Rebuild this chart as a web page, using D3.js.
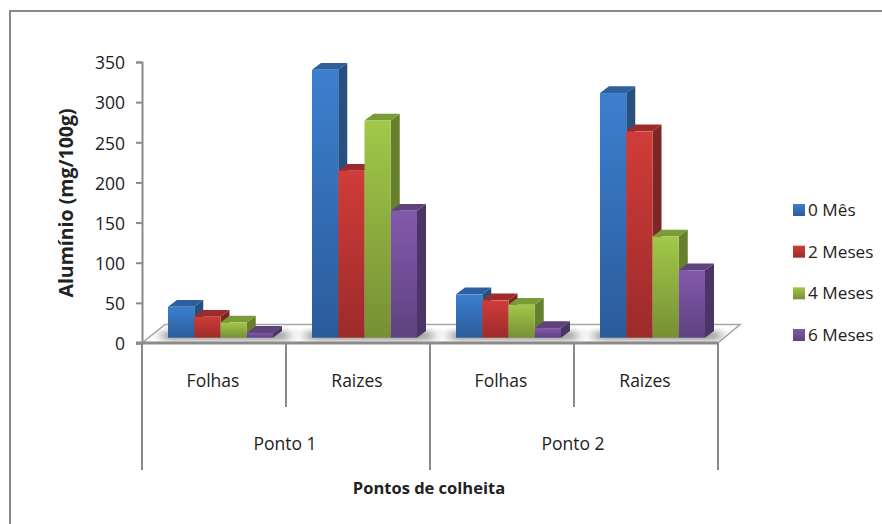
<!DOCTYPE html>
<html><head><meta charset="utf-8">
<script src="https://cdn.jsdelivr.net/npm/d3@7"></script>
<style>html,body{margin:0;padding:0;background:#fff}svg{display:block}text{font-family:"Open Sans",sans-serif;fill:#222}</style>
</head><body><svg id="c" width="882" height="524"></svg>
<script>
const categories = ["Folhas","Raizes","Folhas","Raizes"];
const categoryKeys = ["P1F","P1R","P2F","P2R"];
const groups = ["Ponto 1","Ponto 2"];
const seriesNames = ["0 Mês","2 Meses","4 Meses","6 Meses"];
const mes0 = [38.6,333.7,54,304.7];
const mes2 = [26,208,46.5,257];
const mes4 = [19,270.6,41,126];
const mes6 = [6,158,12,84];
const seriesValues = [mes0,mes2,mes4,mes6];
const yTicks = [0,50,100,150,200,250,300,350];
const frontTop = ["#3d7fcf","#d03c39","#a2c849","#8359ac"];
const frontBottom = ["#2a5c9a","#9c2b2a","#778f34","#5e4280"];
const topFaces = ["#2d609d","#9e2b2b","#799c38","#5f437c"];
const sideFaces = ["#25507f","#7f2523","#66802d","#4a3566"];

const svg = d3.select("#c");
const defs = svg.append("defs");
seriesNames.forEach((s,i)=>{
  const g = defs.append("linearGradient").attr("id","g"+i).attr("x1",0).attr("x2",0).attr("y1",0).attr("y2",1);
  g.append("stop").attr("offset",0).attr("stop-color",frontTop[i]);
  g.append("stop").attr("offset",1).attr("stop-color",frontBottom[i]);
});
defs.append("filter").attr("id","blur").attr("x","-20%").attr("width","140%").attr("y","-100%").attr("height","300%")
  .append("feGaussianBlur").attr("stdDeviation","6 2");
defs.append("clipPath").attr("id","floorClip").append("path").attr("d","M142,343L718,343L740,324.5L165,324.5Z");

const grey = "#8a8a8a";
// frame
svg.append("path").attr("d","M882,11H10V524").attr("fill","none").attr("stroke",grey).attr("stroke-width",2);

const y = d3.scaleLinear().domain([0,350]).range([343,62]);
const x = d3.scaleBand().domain(categoryKeys).range([142,718]);
const inner = d3.scaleBand().domain(seriesNames).range([0,105]);
const barInset = 26, baseShift = 5.3, depthX = 9, depthY = 6.8;

// floor
svg.append("path").attr("d","M142,343L165,324.5H740L718,343").attr("fill","#fff").attr("stroke","#a6a6a6").attr("stroke-width",1.6);
const shadow = svg.append("g").attr("clip-path","url(#floorClip)").append("g").attr("filter","url(#blur)").attr("opacity",0.65);
categoryKeys.forEach(k=>{
  shadow.append("rect").attr("x",x(k)+barInset-6).attr("width",inner.step()*4+22)
    .attr("y",y(0)-baseShift-7).attr("height",10).attr("fill","#7a7a7a");
});

// bars
categoryKeys.forEach((k,ci)=>{
  seriesNames.forEach((s,si)=>{
    const v = seriesValues[si][ci];
    const x0 = x(k)+barInset+inner(s), w = inner.bandwidth();
    const yb = y(0)-baseShift, yt = y(v)-baseShift;
    const g = svg.append("g");
    g.append("path").attr("fill",sideFaces[si])
      .attr("d",`M${x0+w},${yt}L${x0+w+depthX},${yt-depthY}V${yb-depthY}L${x0+w},${yb}Z`);
    g.append("path").attr("fill",topFaces[si])
      .attr("d",`M${x0},${yt}L${x0+depthX},${yt-depthY}H${x0+w+depthX}L${x0+w},${yt}Z`);
    g.append("rect").attr("x",x0).attr("y",yt).attr("width",w).attr("height",yb-yt).attr("fill",`url(#g${si})`);
  });
});

// value axis
const ax = svg.append("g").attr("transform","translate(142,0)")
  .call(d3.axisLeft(y).tickValues(yTicks).tickSize(6).tickPadding(11).tickFormat(d3.format("d")));
ax.select(".domain").attr("stroke",grey).attr("stroke-width",2);
ax.selectAll(".tick line").attr("stroke",grey).attr("stroke-width",2);
ax.selectAll("text").attr("font-size",17.5).attr("fill","#222").attr("dy","0.39em").style("font-family",'"Open Sans",sans-serif');

// category axis lines
svg.append("line").attr("x1",136).attr("x2",718).attr("y1",y(0)).attr("y2",y(0)).attr("stroke",grey).attr("stroke-width",3);
const lab = (t,xp,yp,size,w)=>svg.append("text").attr("x",xp).attr("y",yp).attr("text-anchor","middle")
  .attr("font-size",size).attr("font-weight",w||400).text(t);
categoryKeys.forEach((k,i)=>{
  lab(categories[i], x(k)+x.bandwidth()/2-1, 387, 17.5);
  const end = (i%2===0)? 407 : 470;
  svg.append("line").attr("x1",x(k)+x.bandwidth()).attr("x2",x(k)+x.bandwidth()).attr("y1",y(0)).attr("y2",end).attr("stroke",grey).attr("stroke-width",2);
});
svg.append("line").attr("x1",142).attr("x2",142).attr("y1",y(0)).attr("y2",470).attr("stroke",grey).attr("stroke-width",2);
groups.forEach((g,i)=>lab(g, x(categoryKeys[i*2])+x.bandwidth()-1, 450, 17.5));

// titles
lab("Pontos de colheita",429,494,16.5,700);
svg.append("text").attr("transform","translate(73,203) rotate(-90)").attr("text-anchor","middle")
  .attr("font-size",19.5).attr("font-weight",700).text("Alumínio (mg/100g)");

// legend
const legendY = d3.scalePoint().domain(seriesNames).range([210,335]);
seriesNames.forEach((s,i)=>{
  svg.append("rect").attr("x",793).attr("y",legendY(s)-6).attr("width",12).attr("height",12).attr("fill",`url(#g${i})`);
  svg.append("text").attr("x",808).attr("y",legendY(s)+6).attr("font-size",17.2).text(s);
});
</script></body></html>
